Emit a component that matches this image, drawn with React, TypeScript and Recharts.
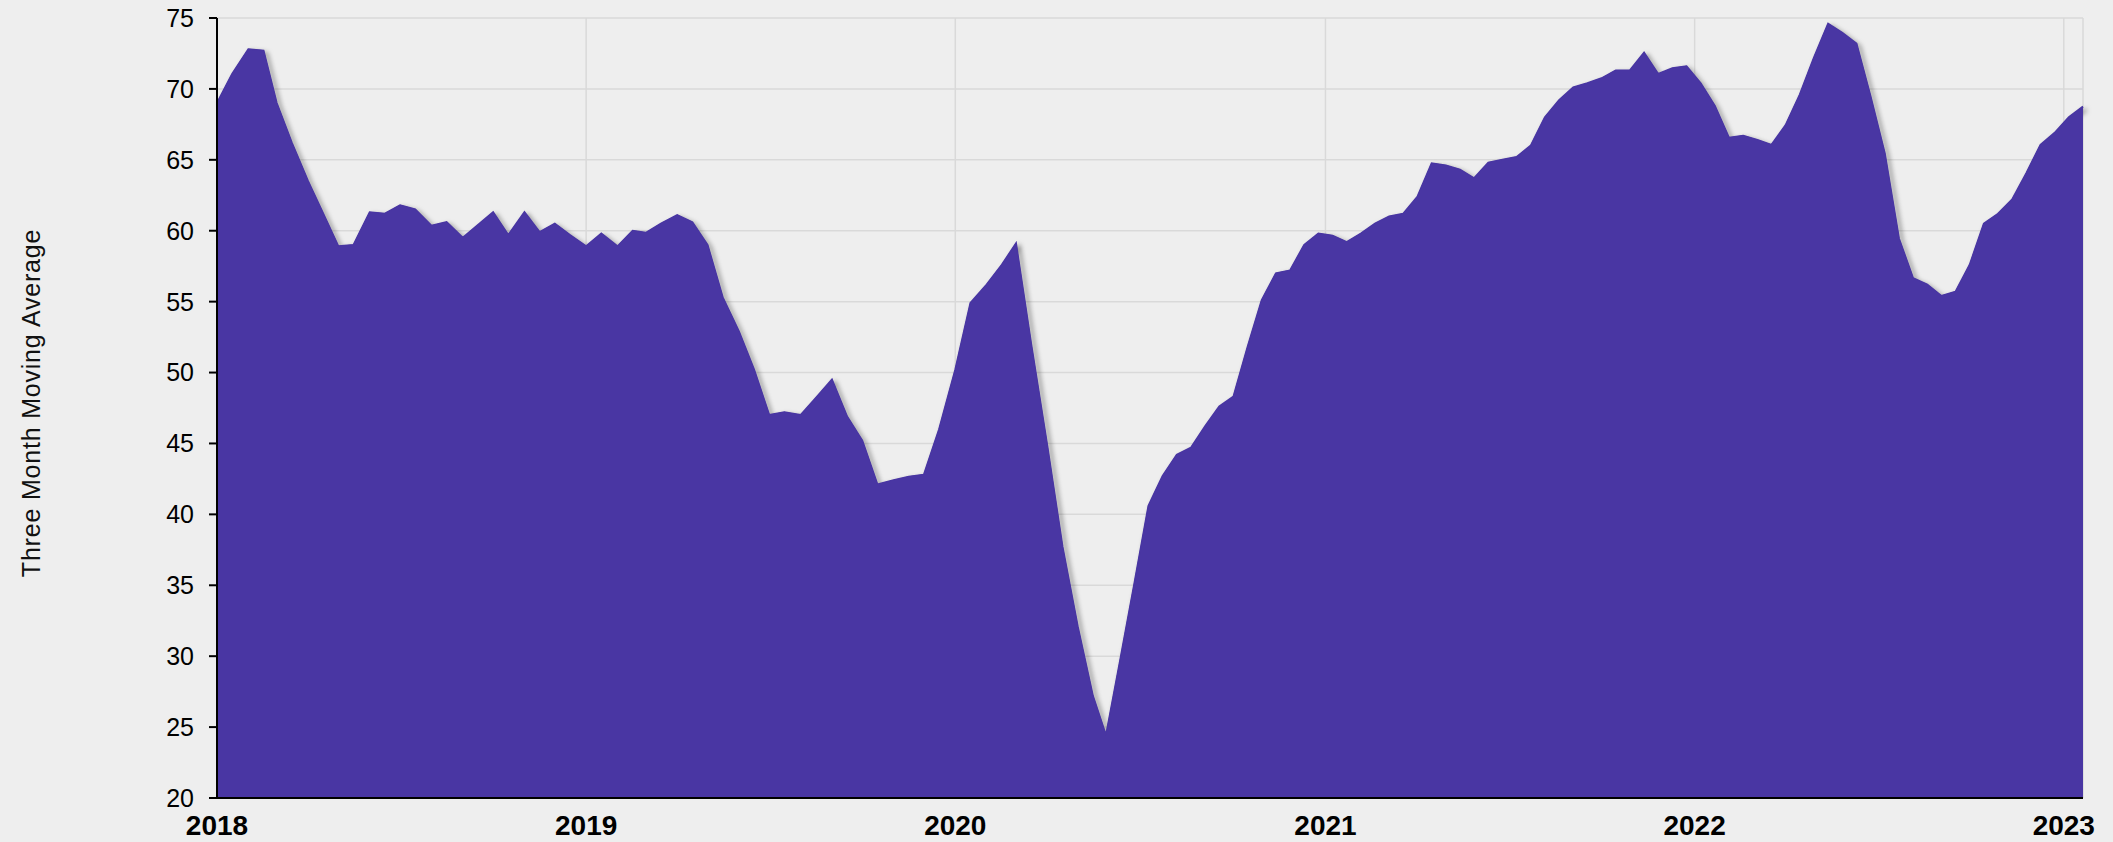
import { Area, AreaChart, CartesianGrid, XAxis, YAxis } from 'recharts'

// sample dates: semi-monthly through May 2020, bi-weekly afterwards
const dates = [
  '2018-01-01', '2018-01-16', '2018-02-01', '2018-02-16', '2018-03-01', '2018-03-16',
  '2018-04-01', '2018-04-16', '2018-05-01', '2018-05-16', '2018-06-01', '2018-06-16',
  '2018-07-01', '2018-07-16', '2018-08-01', '2018-08-16', '2018-09-01', '2018-09-16',
  '2018-10-01', '2018-10-16', '2018-11-01', '2018-11-16', '2018-12-01', '2018-12-16',
  '2019-01-01', '2019-01-16', '2019-02-01', '2019-02-16', '2019-03-01', '2019-03-16',
  '2019-04-01', '2019-04-16', '2019-05-01', '2019-05-16', '2019-06-01', '2019-06-16',
  '2019-07-01', '2019-07-16', '2019-08-01', '2019-08-16', '2019-09-01', '2019-09-16',
  '2019-10-01', '2019-10-16', '2019-11-01', '2019-11-16', '2019-12-01', '2019-12-16',
  '2020-01-01', '2020-01-16', '2020-02-01', '2020-02-16', '2020-03-01', '2020-03-16',
  '2020-04-01', '2020-04-16', '2020-05-01', '2020-05-16',
  '2020-05-29', '2020-06-12', '2020-06-26', '2020-07-10', '2020-07-24', '2020-08-07',
  '2020-08-21', '2020-09-04', '2020-09-18', '2020-10-02', '2020-10-16', '2020-10-30',
  '2020-11-13', '2020-11-27', '2020-12-11', '2020-12-25',
  '2021-01-08', '2021-01-22', '2021-02-05', '2021-02-19', '2021-03-05', '2021-03-19',
  '2021-04-02', '2021-04-16', '2021-04-30', '2021-05-14', '2021-05-28', '2021-06-11',
  '2021-06-25', '2021-07-09', '2021-07-23', '2021-08-06', '2021-08-20', '2021-09-03',
  '2021-09-17', '2021-10-01', '2021-10-15', '2021-10-29', '2021-11-12', '2021-11-26',
  '2021-12-10', '2021-12-24',
  '2022-01-07', '2022-01-21', '2022-02-04', '2022-02-18', '2022-03-04', '2022-03-18',
  '2022-04-01', '2022-04-15', '2022-04-29', '2022-05-13', '2022-05-27', '2022-06-10',
  '2022-06-24', '2022-07-08', '2022-07-22', '2022-08-05', '2022-08-19', '2022-09-02',
  '2022-09-16', '2022-09-30', '2022-10-14', '2022-10-28', '2022-11-11', '2022-11-25',
  '2022-12-09', '2022-12-23',
  '2023-01-06', '2023-01-20',
]

const movingAvg = [
  69.0, 71.05, 72.8, 72.7, 69.0, 66.2, 63.5, 61.2, 58.9, 59.0, 61.3, 61.2,
  61.8, 61.5, 60.35, 60.6, 59.5, 60.4, 61.3, 59.7, 61.3, 59.9, 60.5, 59.7,
  58.9, 59.8, 58.9, 60.0, 59.85, 60.5, 61.1, 60.6, 59.0, 55.3, 52.9, 50.2,
  47.0, 47.2, 47.0, 48.2, 49.5, 46.9, 45.2, 42.1, 42.4, 42.65, 42.8, 46.0,
  50.2, 54.9, 56.2, 57.6, 59.1, 52.0, 44.8, 37.7, 32.1, 27.2,
  24.4, 29.7, 35.1, 40.6, 42.7, 44.2, 44.7, 46.2, 47.6, 48.3, 51.8, 55.1,
  57.0, 57.2, 59.0, 59.8,
  59.65, 59.2, 59.8, 60.5, 61.0, 61.2, 62.4, 64.75, 64.6, 64.3, 63.7, 64.8,
  65.0, 65.2, 66.0, 68.0, 69.2, 70.1, 70.4, 70.75, 71.3, 71.3, 72.55, 71.05,
  71.45, 71.6,
  70.4, 68.8, 66.55, 66.7, 66.4, 66.05, 67.45, 69.6, 72.2, 74.6, 73.95, 73.2,
  69.45, 65.45, 59.45, 56.65, 56.2, 55.4, 55.7, 57.6, 60.5, 61.2, 62.2, 64.05,
  66.05, 66.9,
  68.0, 68.75,
]

const years = [2018, 2019, 2020, 2021, 2022, 2023]
const yTicks = [20, 25, 30, 35, 40, 45, 50, 55, 60, 65, 70, 75]

const data = dates.map((d, i) => ({ t: Date.parse(d), v: movingAvg[i] }))
const yearTicks = years.map((y) => Date.UTC(y, 0, 1))

const FONT = '"Liberation Sans", Arial, Helvetica, sans-serif'
const PURPLE = '#4936a3'

export default function App() {
  return (
    <div style={{ position: 'fixed', left: 0, top: 0, width: 2113, height: 842, background: '#eeeeee', fontFamily: FONT }}>
      <style>{`.edge-shadow { filter: drop-shadow(3px 3px 2.5px rgba(0,0,0,0.65)); }`}</style>
      <div
        style={{
          position: 'absolute',
          left: 31,
          top: 403,
          transform: 'translate(-50%, -50%) rotate(-90deg)',
          whiteSpace: 'nowrap',
          fontSize: 25,
          letterSpacing: 0.8,
          color: '#111',
        }}
      >
        Three Month Moving Average
      </div>
      <AreaChart width={2113} height={842} data={data} margin={{ top: 18, right: 30, bottom: 14, left: 0 }}>
        <CartesianGrid stroke="#d9d9d9" strokeWidth={1.5} />
        <XAxis
          dataKey="t"
          type="number"
          scale="time"
          domain={[Date.UTC(2018, 0, 1), Date.UTC(2023, 0, 20)]}
          ticks={yearTicks}
          tickFormatter={(t: number) => String(new Date(t).getUTCFullYear())}
          tickLine={false}
          tickMargin={11}
          height={30}
          axisLine={{ stroke: '#000', strokeWidth: 2 }}
          tick={{ fill: '#000', fontSize: 28, fontWeight: 'bold', fontFamily: FONT }}
          interval={0}
        />
        <YAxis
          domain={[20, 75]}
          ticks={yTicks}
          width={217}
          tickSize={8}
          tickMargin={15}
          axisLine={{ stroke: '#000', strokeWidth: 2 }}
          tickLine={{ stroke: '#000', strokeWidth: 2 }}
          tick={{ fill: '#000', fontSize: 25, fontFamily: FONT }}
          interval={0}
        />
        <Area
          type="linear"
          dataKey="v"
          className="edge-shadow"
          fill="none"
          stroke={PURPLE}
          strokeWidth={2}
          dot={false}
          activeDot={false}
          isAnimationActive={false}
        />
        <Area
          type="linear"
          dataKey="v"
          fill={PURPLE}
          fillOpacity={1}
          stroke={PURPLE}
          strokeWidth={1}
          dot={false}
          activeDot={false}
          isAnimationActive={false}
        />
      </AreaChart>
    </div>
  )
}
